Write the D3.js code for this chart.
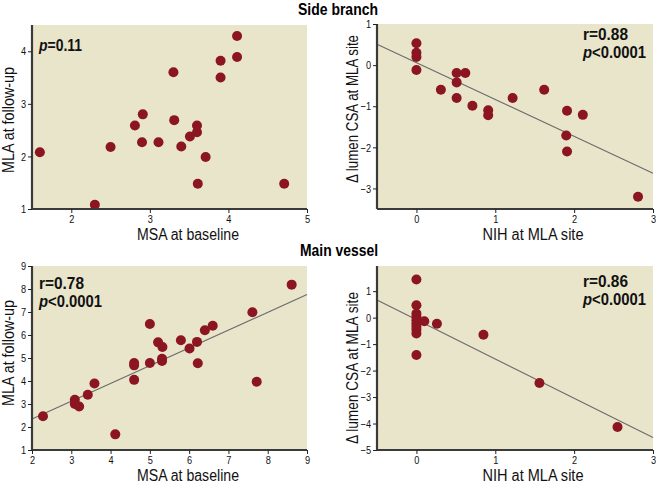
<!DOCTYPE html>
<html>
<head>
<meta charset="utf-8">
<script src="https://cdn.jsdelivr.net/npm/d3@7"></script>
<style>
  body { margin: 0; background: #fff; }
  svg text { font-family: "Liberation Sans", Arial, sans-serif; }
</style>
</head>
<body>
<div id="chart"></div>
<script>
// Side branch: MSA at baseline vs MLA at follow-up
const sbMsa = [1.60, 2.30, 2.50, 2.81, 2.91, 2.90, 3.11, 3.30, 3.31, 3.40, 3.51, 3.60, 3.60, 3.61, 3.71, 3.90, 3.90, 4.11, 4.11, 4.71];
const sbMla = [2.08, 1.08, 2.18, 2.59, 2.80, 2.27, 2.27, 3.60, 2.69, 2.19, 2.38, 2.59, 2.46, 1.48, 1.99, 3.82, 3.50, 4.29, 3.89, 1.48];

// Side branch: NIH vs delta lumen CSA
const sbNih = [0, 0, 0, 0, 0.51, 0.62, 0.51, 0.31, 0.51, 0.71, 0.91, 0.91, 1.22, 1.62, 1.91, 2.11, 1.90, 1.91, 2.81];
const sbDelta = [0.53, 0.30, 0.20, -0.12, -0.19, -0.19, -0.42, -0.60, -0.80, -0.99, -1.10, -1.22, -0.80, -0.60, -1.11, -1.21, -1.71, -2.10, -3.20];
const sbFit = { slope: -0.897, intercept: 0.06 };

// Main vessel: MSA at baseline vs MLA at follow-up
const mvMsa = [2.28, 3.09, 3.09, 3.20, 3.42, 3.59, 4.12, 4.60, 4.60, 4.60, 5.00, 5.00, 5.21, 5.32, 5.31, 5.31, 5.79, 6.01, 6.20, 6.22, 6.40, 6.60, 7.61, 7.72, 8.61];
const mvMla = [2.47, 3.18, 3.00, 2.89, 3.40, 3.89, 1.68, 4.78, 4.68, 4.05, 6.48, 4.78, 5.68, 5.48, 4.97, 4.87, 5.77, 5.41, 5.70, 4.77, 6.21, 6.40, 6.99, 3.97, 8.19];
const mvFit1 = { slope: 0.773, intercept: 0.80 };

// Main vessel: NIH vs delta lumen CSA
const mvNih = [0, 0, 0, 0, 0, 0, 0, 0, 0, 0, 0.10, 0.26, 0.85, 1.56, 2.55];
const mvDelta = [1.44, 0.47, 0.15, 0.03, -0.10, -0.22, -0.34, -0.46, -0.60, -1.41, -0.14, -0.23, -0.65, -2.47, -4.13];
const mvFit2 = { slope: -1.483, intercept: -0.08 };

const svg = d3.select("#chart").append("svg")
  .attr("width", 656)
  .attr("height", 484);

const bg = "#e9e5cb";
const dotColor = "#8b1520";
const squeeze = 0.8; // the figure uses a condensed face

function panel(opts) {
  const x = d3.scaleLinear().domain(opts.xDomain).range([opts.left, opts.right]);
  const y = d3.scaleLinear().domain(opts.yDomain).range([opts.bottom, opts.top]);
  const g = svg.append("g");

  g.append("rect")
    .attr("x", opts.left).attr("y", opts.top)
    .attr("width", opts.right - opts.left)
    .attr("height", opts.bottom - opts.top)
    .attr("fill", bg);

  // regression line
  if (opts.fit) {
    const xs = opts.xDomain;
    g.append("line")
      .attr("x1", x(xs[0])).attr("y1", y(opts.fit.intercept + opts.fit.slope * xs[0]))
      .attr("x2", x(xs[1])).attr("y2", y(opts.fit.intercept + opts.fit.slope * xs[1]))
      .attr("stroke", "#6b6b6b")
      .attr("stroke-width", 1.1);
  }

  g.selectAll("circle")
    .data(opts.xs.map((v, i) => [v, opts.ys[i]]))
    .enter().append("circle")
    .attr("cx", d => x(d[0]))
    .attr("cy", d => y(d[1]))
    .attr("r", 5)
    .attr("fill", dotColor);

  const xAxis = g.append("g")
    .attr("transform", `translate(0,${opts.bottom})`)
    .call(d3.axisBottom(x).tickValues(opts.xTicks).tickSize(4).tickPadding(2).tickFormat(d3.format("d")));
  const yAxis = g.append("g")
    .attr("transform", `translate(${opts.left},0)`)
    .call(d3.axisLeft(y).tickValues(opts.yTicks).tickSize(4).tickPadding(2).tickFormat(d3.format("d")));

  [xAxis, yAxis].forEach(a => {
    a.select(".domain").attr("stroke", "#3a3a3a").attr("stroke-width", 2.2)
      .attr("d", a === xAxis
        ? `M${opts.left},0H${opts.right}`
        : `M0,${opts.top}V${opts.bottom}`);
    a.selectAll(".tick line").attr("stroke", "#222");
    a.selectAll(".tick text").attr("fill", "#111").style("font-size", "11.5px");
  });
  xAxis.selectAll(".tick text").attr("transform", `scale(${squeeze},1)`);
  yAxis.selectAll(".tick text").attr("x", 0).attr("transform", `translate(-6,0) scale(${squeeze},1)`);

  g.append("text")
    .attr("x", opts.xTitlePos[0]).attr("y", opts.xTitlePos[1])
    .attr("text-anchor", "middle")
    .style("font-size", "16px")
    .attr("fill", "#111")
    .attr("textLength", opts.xTitleLen)
    .attr("lengthAdjust", "spacingAndGlyphs")
    .text(opts.xTitle);

  g.append("text")
    .attr("transform", `translate(${opts.yTitlePos[0]},${opts.yTitlePos[1]}) rotate(-90)`)
    .attr("text-anchor", "middle")
    .style("font-size", "16px")
    .attr("fill", "#111")
    .attr("textLength", opts.yTitleLen)
    .attr("lengthAdjust", "spacingAndGlyphs")
    .text(opts.yTitle);

  // stats annotation
  opts.stats.forEach((s, i) => {
    const t = g.append("text")
      .attr("x", opts.statsPos[0])
      .attr("y", opts.statsPos[1] + i * 18)
      .style("font-size", "16px")
      .style("font-weight", "bold")
      .attr("fill", "#111")
      .attr("textLength", s[2])
      .attr("lengthAdjust", "spacingAndGlyphs");
    t.append("tspan").style("font-style", "italic").text(s[0]);
    t.append("tspan").text(s[1]);
  });
}

// section titles
svg.append("text")
  .attr("x", 338).attr("y", 15)
  .attr("text-anchor", "middle")
  .style("font-size", "16.5px").style("font-weight", "bold")
  .attr("textLength", 80).attr("lengthAdjust", "spacingAndGlyphs")
  .text("Side branch");
svg.append("text")
  .attr("x", 339).attr("y", 256)
  .attr("text-anchor", "middle")
  .style("font-size", "16.5px").style("font-weight", "bold")
  .attr("textLength", 78).attr("lengthAdjust", "spacingAndGlyphs")
  .text("Main vessel");

panel({
  left: 32, right: 307, top: 25, bottom: 209,
  xDomain: [1.5, 5], yDomain: [1, 4.5],
  xTicks: [2, 3, 4, 5], yTicks: [1, 2, 3, 4],
  xs: sbMsa, ys: sbMla, fit: null,
  xTitle: "MSA at baseline", xTitlePos: [188, 240], xTitleLen: 102,
  yTitle: "MLA at follow-up", yTitlePos: [14, 120], yTitleLen: 106,
  stats: [["p", "=0.11", 43]], statsPos: [39, 51]
});

panel({
  left: 377, right: 653, top: 24, bottom: 209,
  xDomain: [-0.5, 3], yDomain: [-3.5, 1],
  xTicks: [0, 1, 2, 3], yTicks: [-3, -2, -1, 0, 1],
  xs: sbNih, ys: sbDelta, fit: sbFit,
  xTitle: "NIH at MLA site", xTitlePos: [533, 240], xTitleLen: 101,
  yTitle: "\u0394 lumen CSA at MLA site", yTitlePos: [358, 109], yTitleLen: 148,
  stats: [["", "r=0.88", 45], ["p", "<0.0001", 63]], statsPos: [583, 40]
});

panel({
  left: 32, right: 307, top: 266, bottom: 450,
  xDomain: [2, 9], yDomain: [1, 9],
  xTicks: [2, 3, 4, 5, 6, 7, 8, 9], yTicks: [1, 2, 3, 4, 5, 6, 7, 8, 9],
  xs: mvMsa, ys: mvMla, fit: mvFit1,
  xTitle: "MSA at baseline", xTitlePos: [188, 481], xTitleLen: 102,
  yTitle: "MLA at follow-up", yTitlePos: [14, 353], yTitleLen: 106,
  stats: [["", "r=0.78", 45], ["p", "<0.0001", 63]], statsPos: [39, 289]
});

panel({
  left: 377, right: 653, top: 266, bottom: 450,
  xDomain: [-0.5, 3], yDomain: [-5, 1.95],
  xTicks: [0, 1, 2, 3], yTicks: [-5, -4, -3, -2, -1, 0, 1],
  xs: mvNih, ys: mvDelta, fit: mvFit2,
  xTitle: "NIH at MLA site", xTitlePos: [533, 481], xTitleLen: 101,
  yTitle: "\u0394 lumen CSA at MLA site", yTitlePos: [358, 368], yTitleLen: 152,
  stats: [["", "r=0.86", 45], ["p", "<0.0001", 63]], statsPos: [583, 287]
});
</script>
</body>
</html>
